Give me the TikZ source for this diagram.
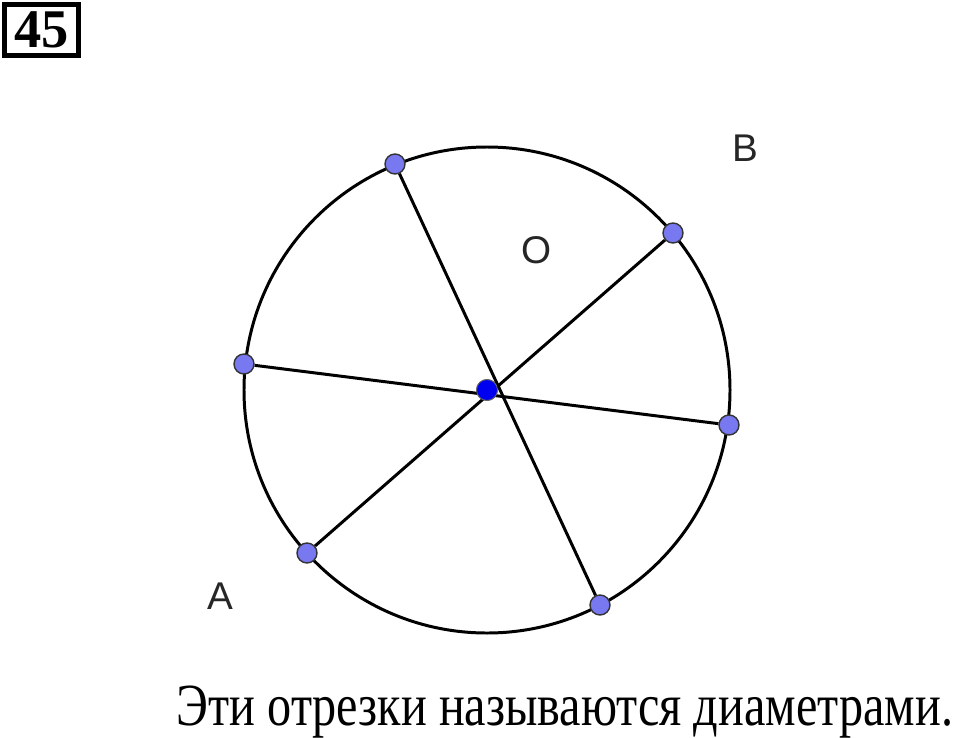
\documentclass[tikz,border=0pt]{standalone}
\usepackage{fontspec}
\setmainfont{Liberation Serif}
\setsansfont{Liberation Sans}
\usetikzlibrary{positioning}
\definecolor{ptfill}{HTML}{7878F0}
\definecolor{ctrfill}{HTML}{0000F0}
\begin{document}
\begin{tikzpicture}[x=0.02cm, y=-0.02cm, line width=1.7pt]

		% Define styles
		\tikzset{pt/.style={circle, draw=black!80, line width=0.8pt, fill=ptfill, inner sep=0pt, minimum size=0.4cm},
			ctr/.style={circle, draw=black!60, line width=0.5pt, fill=ctrfill, inner sep=0pt, minimum size=0.42cm},
			lbl/.style={font=\sffamily\fontsize{22}{22}\selectfont, text=black!85}}
		\useasboundingbox (0,0) rectangle (960,737);

		% Number box
		\node[draw, line width=2.4pt, minimum width=1.48cm, minimum height=1.02cm, inner sep=0pt,
			font=\bfseries\fontsize{31}{31}\selectfont] (num) at (41.5,30) {45};

		% Circle and centre
		\node[ctr] (o) at (487,390) {};
		\draw (487,390) circle [radius=243];

		% Points on the circle
		\node[pt] (p1) at (395,164) {};
		\node[pt] (p2) at (600,605) {};
		\node[pt] (p3) at (673,233) {};
		\node[pt] (p4) at (307,553) {};
		\node[pt] (p5) at (244,364) {};
		\node[pt] (p6) at (729,425) {};

		% Diameters
		\draw (p1) -- (p2);
		\draw (p3) -- (p4);
		\draw (p5) -- (p6);
		\node[ctr] at (o) {};

		% Labels
		\node[lbl] (lb) at (745,148) {B};
		\node[lbl] (lo) at (537,250) {O};
		\node[lbl] (la) at (220,596) {A};

		% Caption
		\node[font=\fontsize{34}{34}\selectfont, xscale=0.807, anchor=base east] (cap) at (959,725)
			{Эти отрезки называются диаметрами.};

	\end{tikzpicture}
\end{document}
